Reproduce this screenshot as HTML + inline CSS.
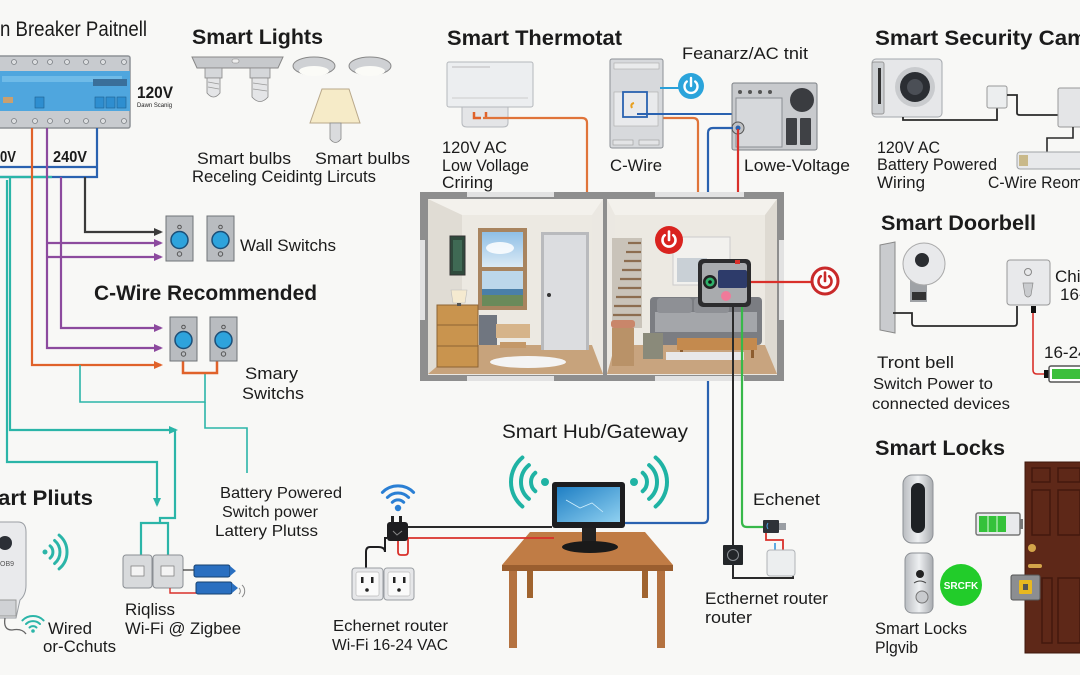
<!DOCTYPE html>
<html><head><meta charset="utf-8"><style>
html,body{margin:0;padding:0;background:#f8f8f6;}
svg{display:block;}
text{font-family:"Liberation Sans",sans-serif;fill:#1b1b1b;}
.t{font-weight:bold;font-size:21px;}
.l{font-size:17px;}
.s{font-size:16px;}
</style></head><body>
<svg width="1080" height="675" viewBox="0 0 1080 675" xmlns="http://www.w3.org/2000/svg">
<defs>
<marker id="ap" markerWidth="9" markerHeight="8" refX="7" refY="4" orient="auto" markerUnits="userSpaceOnUse"><path d="M0,0 L9,4 L0,8 z" fill="#8c4a9e"/></marker>
<marker id="ao" markerWidth="9" markerHeight="8" refX="7" refY="4" orient="auto" markerUnits="userSpaceOnUse"><path d="M0,0 L9,4 L0,8 z" fill="#e0622a"/></marker>
<marker id="ag" markerWidth="9" markerHeight="8" refX="7" refY="4" orient="auto" markerUnits="userSpaceOnUse"><path d="M0,0 L9,4 L0,8 z" fill="#3a3a3a"/></marker>
<marker id="at" markerWidth="9" markerHeight="8" refX="7" refY="4" orient="auto" markerUnits="userSpaceOnUse"><path d="M0,0 L9,4 L0,8 z" fill="#2bb5a8"/></marker>
<linearGradient id="silver" x1="0" y1="0" x2="1" y2="0"><stop offset="0" stop-color="#b9bcc0"/><stop offset="0.5" stop-color="#eef0f2"/><stop offset="1" stop-color="#a9acb0"/></linearGradient>
<linearGradient id="screen" x1="0" y1="0" x2="1" y2="1"><stop offset="0" stop-color="#1f7fc4"/><stop offset="1" stop-color="#8fd0f0"/></linearGradient>
<linearGradient id="sky" x1="0" y1="0" x2="0" y2="1"><stop offset="0" stop-color="#8fbfe6"/><stop offset="1" stop-color="#dbeaf5"/></linearGradient>
</defs>

<!-- ============ BREAKER PANEL ============ -->
<text x="0" y="36" style="font-size:21px" textLength="147" lengthAdjust="spacingAndGlyphs">n Breaker Paitnell</text>
<rect x="-4" y="56" width="134" height="72" rx="2" fill="#c8cbcf" stroke="#8d9196" stroke-width="1.5"/>
<rect x="-4" y="71" width="134" height="40" fill="#4fa6de"/>
<rect x="2" y="76" width="120" height="6" fill="#6fbbe8"/>
<rect x="93" y="79" width="34" height="7" fill="#3a6f9a"/>
<rect x="95" y="97" width="9" height="11" fill="#2e8ed0" stroke="#1f5f8f" stroke-width="0.6"/>
<rect x="106" y="97" width="9" height="11" fill="#2e8ed0" stroke="#1f5f8f" stroke-width="0.6"/>
<rect x="117" y="97" width="9" height="11" fill="#2e8ed0" stroke="#1f5f8f" stroke-width="0.6"/>
<rect x="35" y="97" width="9" height="11" fill="#2e8ed0" stroke="#1f5f8f" stroke-width="0.6"/>
<rect x="3" y="97" width="10" height="6" fill="#c9a070"/>
<g fill="#dcdee0" stroke="#7b7f84" stroke-width="0.8">
<circle cx="14" cy="62" r="2.5"/><circle cx="35" cy="62" r="2.5"/><circle cx="50" cy="62" r="2.5"/><circle cx="67" cy="62" r="2.5"/><circle cx="86" cy="62" r="2.5"/><circle cx="103" cy="62" r="2.5"/><circle cx="124" cy="62" r="2.5"/>
<circle cx="14" cy="121" r="2.5"/><circle cx="35" cy="121" r="2.5"/><circle cx="50" cy="121" r="2.5"/><circle cx="67" cy="121" r="2.5"/><circle cx="86" cy="121" r="2.5"/><circle cx="103" cy="121" r="2.5"/><circle cx="124" cy="121" r="2.5"/>
</g>
<text x="137" y="98" style="font-size:17px;font-weight:bold" textLength="36" lengthAdjust="spacingAndGlyphs">120V</text>
<text x="137" y="107" style="font-size:6px" textLength="35" lengthAdjust="spacingAndGlyphs">Dawn Scanig</text>
<text x="0" y="162" style="font-size:16px;font-weight:bold" textLength="16" lengthAdjust="spacingAndGlyphs">0V</text>
<text x="53" y="162" style="font-size:16px;font-weight:bold" textLength="34" lengthAdjust="spacingAndGlyphs">240V</text>

<!-- left wires -->
<g fill="none" stroke-width="2.2">
<path d="M97,128 V177 H-2" stroke="#2a62b0"/>
<path d="M-2,167 H97" stroke="#2a62b0"/>
<path d="M-2,177 H52" stroke="#2bb5a8"/>
<path d="M10,177 V430 H176" stroke="#2bb5a8" marker-end="url(#at)"/>
<path d="M7,180 V462 H157 V505" stroke="#2bb5a8" marker-end="url(#at)"/>
<path d="M175,430 V518 H160 V523 M141,556 V523 H168 V556" stroke="#2bb5a8"/>
<path d="M32,128 V365 H161" stroke="#e0622a" marker-end="url(#ao)"/>
<path d="M47,128 V348 H161" stroke="#8c4a9e" marker-end="url(#ap)"/>
<path d="M47,243 H161" stroke="#8c4a9e" marker-end="url(#ap)"/>
<path d="M47,257 H161" stroke="#8c4a9e" marker-end="url(#ap)"/>
<path d="M61,177 V328 H161" stroke="#8c4a9e" marker-end="url(#ap)"/>
<path d="M85,177 V232 H161" stroke="#3a3a3a" marker-end="url(#ag)"/>
<path d="M80,365 V402 H205 V372" stroke="#2bb5a8" stroke-width="1.6"/>
<path d="M205,402 V428 H247 V473" stroke="#2bb5a8" stroke-width="1.6"/>
<path d="M183,361 V373 H217 V361" stroke="#e0622a" stroke-width="2.5"/>
</g>

<!-- wall switches -->
<g>
<rect x="166" y="216" width="27" height="45" fill="#b9bcc0" stroke="#6f7378"/>
<circle cx="179.5" cy="240" r="8.5" fill="#2ea3dc" stroke="#1c4f78" stroke-width="1.5"/>
<circle cx="179.5" cy="227" r="1.8" fill="none" stroke="#555"/><circle cx="179.5" cy="254" r="2.2" fill="none" stroke="#555"/>
<rect x="207" y="216" width="27" height="45" fill="#b9bcc0" stroke="#6f7378"/>
<circle cx="220.5" cy="240" r="8.5" fill="#2ea3dc" stroke="#1c4f78" stroke-width="1.5"/>
<circle cx="220.5" cy="227" r="1.8" fill="none" stroke="#555"/><circle cx="220.5" cy="254" r="2.2" fill="none" stroke="#555"/>
<rect x="170" y="317" width="27" height="44" fill="#b9bcc0" stroke="#6f7378"/>
<circle cx="183.5" cy="340" r="8.5" fill="#2ea3dc" stroke="#1c4f78" stroke-width="1.5"/>
<circle cx="183.5" cy="327" r="1.8" fill="none" stroke="#555"/><circle cx="183.5" cy="354" r="2.2" fill="none" stroke="#555"/>
<rect x="210" y="317" width="27" height="44" fill="#b9bcc0" stroke="#6f7378"/>
<circle cx="223.5" cy="340" r="8.5" fill="#2ea3dc" stroke="#1c4f78" stroke-width="1.5"/>
<circle cx="223.5" cy="327" r="1.8" fill="none" stroke="#555"/><circle cx="223.5" cy="354" r="2.2" fill="none" stroke="#555"/>
</g>
<text x="240" y="251" class="l" textLength="96" lengthAdjust="spacingAndGlyphs">Wall Switchs</text>
<text x="94" y="300" class="t" textLength="223" lengthAdjust="spacingAndGlyphs">C-Wire Recommended</text>
<text x="245" y="379" class="l" textLength="53" lengthAdjust="spacingAndGlyphs">Smary</text>
<text x="242" y="399" class="l" textLength="62" lengthAdjust="spacingAndGlyphs">Switchs</text>

<!-- ============ SMART LIGHTS ============ -->
<text x="192" y="44" class="t" textLength="131" lengthAdjust="spacingAndGlyphs">Smart Lights</text>
<path d="M192,57 H283 L278,68 H197 Z" fill="#c7c9cc" stroke="#888" stroke-width="1"/>
<rect x="232" y="59" width="7" height="4" rx="2" fill="#eee" stroke="#888" stroke-width="0.6"/>
<rect x="205" y="68" width="17" height="10" fill="#d5d7da" stroke="#888" stroke-width="0.8"/>
<path d="M207,78 H220 V93 Q213.5,101 207,93 Z" fill="#e4e5e7" stroke="#888" stroke-width="0.8"/>
<rect x="250" y="68" width="20" height="10" fill="#d5d7da" stroke="#888" stroke-width="0.8"/>
<path d="M252,78 H268 V97 Q260,106 252,97 Z" fill="#e4e5e7" stroke="#888" stroke-width="0.8"/>
<g stroke="#999" stroke-width="0.8"><line x1="208" y1="82" x2="219" y2="84"/><line x1="208" y1="87" x2="219" y2="89"/><line x1="253" y1="83" x2="267" y2="85"/><line x1="253" y1="89" x2="267" y2="91"/></g>
<ellipse cx="314" cy="66" rx="21" ry="9" fill="#cfd1d4" stroke="#888"/>
<ellipse cx="314" cy="71" rx="15" ry="5" fill="#fbfbf7"/>
<ellipse cx="370" cy="66" rx="21" ry="9" fill="#cfd1d4" stroke="#888"/>
<ellipse cx="370" cy="71" rx="15" ry="5" fill="#fbfbf7"/>
<path d="M322,89 H349 L360,123 H310 Z" fill="#f6ebc8" stroke="#b9a88a"/>
<path d="M330,123 H341 V139 Q335.5,146 330,139 Z" fill="#dadbdd" stroke="#888" stroke-width="0.8"/>
<text x="197" y="164" class="l" textLength="94" lengthAdjust="spacingAndGlyphs">Smart bulbs</text>
<text x="315" y="164" class="l" textLength="95" lengthAdjust="spacingAndGlyphs">Smart bulbs</text>
<text x="192" y="182" class="l" textLength="184" lengthAdjust="spacingAndGlyphs">Receling Ceidintg Lircuts</text>

<!-- ============ SMART PLUGS ============ -->
<text x="-2" y="505" class="t" textLength="95" lengthAdjust="spacingAndGlyphs">art Pliuts</text>
<path d="M-4,522 H18 Q26,522 26,532 V585 Q26,595 20,600 L16,618 H-4 Z" fill="#e9eaec" stroke="#9a9ea3"/>
<circle cx="5" cy="543" r="7" fill="#2b2f36"/>
<text x="0" y="566" style="font-size:7px;fill:#555">OB9</text>
<rect x="-2" y="600" width="18" height="16" fill="#d0d2d5" stroke="#999"/>
<path d="M5,618 Q3,630 12,630 Q22,628 26,634" fill="none" stroke="#666" stroke-width="1.3"/>
<g fill="none" stroke="#2bb5a8" stroke-width="3" stroke-linecap="round">
<circle cx="45" cy="552" r="2.5" fill="#2bb5a8" stroke="none"/>
<path d="M50.1,545.9 A8,8 0 0 1 50.1,558.1"/>
<path d="M54.6,540.5 A15,15 0 0 1 54.6,563.5"/>
<path d="M59.1,535.1 A22,22 0 0 1 59.1,568.9"/>
</g>
<g fill="none" stroke="#2bb5a8" stroke-width="2" stroke-linecap="round">
<circle cx="33" cy="631" r="1.8" fill="#2bb5a8" stroke="none"/>
<path d="M29.5,627.5 A5,5 0 0 1 36.5,627.5"/>
<path d="M26,624 A10,10 0 0 1 40,624"/>
<path d="M22.4,620.4 A15,15 0 0 1 43.6,620.4"/>
</g>
<text x="48" y="634" class="l" textLength="44" lengthAdjust="spacingAndGlyphs">Wired</text>
<text x="43" y="652" class="l" textLength="73" lengthAdjust="spacingAndGlyphs">or-Cchuts</text>

<!-- rigless switches -->
<rect x="123" y="555" width="29" height="33" rx="3" fill="#d8dadc" stroke="#8a8e93"/>
<rect x="131" y="566" width="13" height="10" fill="#f4f4f4" stroke="#777" stroke-width="0.7"/>
<rect x="153" y="555" width="30" height="33" rx="3" fill="#d8dadc" stroke="#8a8e93"/>
<rect x="161" y="566" width="13" height="10" fill="#f4f4f4" stroke="#777" stroke-width="0.7"/>
<path d="M183,570 H194" stroke="#333" stroke-width="1.2"/>
<path d="M170,588 V593 H196" stroke="#d9302a" stroke-width="1.4" fill="none"/>
<rect x="194" y="565" width="36" height="12" rx="2" fill="#2a6fc0" stroke="#15406f"/>
<path d="M230,566 L236,571 L230,576 Z" fill="#2a6fc0"/>
<rect x="196" y="582" width="36" height="12" rx="2" fill="#2a6fc0" stroke="#15406f"/>
<path d="M232,583 L238,588 L232,593 Z" fill="#2a6fc0"/>
<path d="M239,588 A4,4 0 0 1 239,594 M242,585 A8,8 0 0 1 242,597" fill="none" stroke="#888" stroke-width="1"/>
<text x="125" y="615" class="l" textLength="50" lengthAdjust="spacingAndGlyphs">Riqliss</text>
<text x="125" y="634" class="l" textLength="116" lengthAdjust="spacingAndGlyphs">Wi-Fi @ Zigbee</text>
<text x="220" y="498" class="s" textLength="122" lengthAdjust="spacingAndGlyphs">Battery Powered</text>
<text x="222" y="517" class="s" textLength="96" lengthAdjust="spacingAndGlyphs">Switch power</text>
<text x="215" y="536" class="s" textLength="103" lengthAdjust="spacingAndGlyphs">Lattery Plutss</text>

<!-- ============ THERMOSTAT ============ -->
<text x="447" y="45" class="t" textLength="175" lengthAdjust="spacingAndGlyphs">Smart Thermotat</text>
<rect x="447" y="62" width="86" height="45" rx="2" fill="#eceef0" stroke="#b5b8bc"/>
<line x1="452" y1="67" x2="490" y2="67" stroke="#bbb"/>
<line x1="452" y1="98" x2="528" y2="98" stroke="#ccc"/>
<path d="M462,107 H508 V123 Q508,127 503,127 H467 Q462,127 462,123 Z" fill="#e4e5e7" stroke="#b5b8bc"/>
<path d="M474,112 V118 H481 M486,112 V119" stroke="#e0622a" stroke-width="2.5" fill="none"/>
<path d="M483,118 H582 Q587,118 587,123 V210 Q587,215 592,215 H693 Q698,215 698,210 V123 Q698,118 693,118 H637" fill="none" stroke="#e0743a" stroke-width="2.2"/>
<text x="442" y="153" class="l" textLength="65" lengthAdjust="spacingAndGlyphs">120V AC</text>
<text x="442" y="171" class="l" textLength="87" lengthAdjust="spacingAndGlyphs">Low Vollage</text>
<text x="442" y="188" class="l" textLength="51" lengthAdjust="spacingAndGlyphs">Criring</text>

<!-- C-wire panel -->
<rect x="610" y="59" width="53" height="89" rx="2" fill="#d7d9dc" stroke="#8d9196"/>
<rect x="614" y="63" width="45" height="6" fill="#eaebec" stroke="#aaa" stroke-width="0.6"/>
<rect x="614" y="92" width="44" height="34" fill="#e9eaec" stroke="#aaa" stroke-width="0.6"/>
<rect x="613" y="140" width="20" height="5" fill="#e3e4e6" stroke="#999" stroke-width="0.6"/>
<rect x="639" y="140" width="20" height="5" fill="#e3e4e6" stroke="#999" stroke-width="0.6"/>
<rect x="623" y="92" width="24" height="25" fill="none" stroke="#2a62b0" stroke-width="1.8"/>
<path d="M632,108 Q630,104 634,103" stroke="#e8a020" stroke-width="2" fill="none"/>
<line x1="660" y1="88" x2="679" y2="88" stroke="#2a9fd8" stroke-width="2"/>
<line x1="637" y1="114" x2="732" y2="114" stroke="#2a62b0" stroke-width="2"/>
<circle cx="691" cy="86" r="13" fill="#2ba4db"/>
<path d="M686.8,81.5 A6.5,6.5 0 1 0 695.2,81.5" fill="none" stroke="#fff" stroke-width="2.4" stroke-linecap="round"/>
<line x1="691" y1="78" x2="691" y2="86" stroke="#fff" stroke-width="2.4" stroke-linecap="round"/>
<text x="682" y="59" class="l" textLength="126" lengthAdjust="spacingAndGlyphs">Feanarz/AC tnit</text>

<!-- HVAC unit -->
<rect x="732" y="83" width="85" height="67" rx="2" fill="#c8cacd" stroke="#7d8186"/>
<rect x="736" y="98" width="46" height="49" fill="#d6d8db" stroke="#8a8e93"/>
<g fill="#555"><circle cx="740" cy="92" r="2"/><circle cx="750" cy="92" r="2"/><circle cx="760" cy="92" r="2"/><circle cx="770" cy="92" r="2"/></g>
<circle cx="802" cy="100" r="12" fill="#3a3c40"/>
<g fill="#3f4145"><rect x="786" y="118" width="11" height="27" rx="1"/><rect x="800" y="118" width="11" height="27" rx="1"/></g>
<circle cx="738" cy="128" r="6" fill="#bfc1c4" stroke="#555"/>
<circle cx="738" cy="128" r="2.5" fill="#2a62b0"/>
<path d="M733,128 H713 Q708,128 708,133 V518 Q708,523 703,523 H625" fill="none" stroke="#2a62b0" stroke-width="2.2"/>
<line x1="738" y1="129" x2="738" y2="259" stroke="#d9302a" stroke-width="2.2"/>
<text x="610" y="171" class="l" textLength="52" lengthAdjust="spacingAndGlyphs">C-Wire</text>
<text x="744" y="171" class="l" textLength="106" lengthAdjust="spacingAndGlyphs">Lowe-Voltage</text>

<!-- ============ HOUSE ============ -->
<rect x="420" y="192" width="364" height="189" fill="#8e8e8e"/>
<rect x="467" y="192" width="87" height="5" fill="#e2e2e2"/>
<rect x="655" y="192" width="89" height="5" fill="#e2e2e2"/>
<rect x="467" y="376" width="87" height="5" fill="#e2e2e2"/>
<rect x="655" y="376" width="89" height="5" fill="#e2e2e2"/>
<rect x="420" y="240" width="5" height="80" fill="#e2e2e2"/>
<rect x="779" y="240" width="5" height="80" fill="#e2e2e2"/>
<rect x="428" y="199" width="175" height="176" fill="#ebe8e2"/>
<polygon points="428,199 603,199 592,215 462,215" fill="#f3f1ec"/>
<polygon points="428,199 462,215 462,345 428,374" fill="#e0dcd4"/>
<polygon points="428,374 603,374 592,345 462,345" fill="#c7a37c"/>
<rect x="462" y="215" width="130" height="130" fill="#ece9e2"/>
<rect x="450" y="236" width="15" height="39" fill="#2f4a3c" stroke="#333"/>
<rect x="453" y="240" width="9" height="31" fill="#3f6a54"/>
<rect x="478" y="228" width="49" height="82" fill="#a8845f"/>
<rect x="482" y="232" width="41" height="35" fill="url(#sky)"/>
<ellipse cx="500" cy="248" rx="14" ry="6" fill="#fff" opacity="0.85"/>
<rect x="482" y="271" width="41" height="35" fill="#bcd7ea"/>
<rect x="482" y="289" width="41" height="6" fill="#4a7fa8"/>
<rect x="482" y="295" width="41" height="11" fill="#6a8a5a"/>
<rect x="541" y="232" width="48" height="118" fill="#b9babd"/>
<rect x="544" y="235" width="42" height="115" fill="#dcdde0"/>
<circle cx="549" cy="295" r="2" fill="#333"/>
<rect x="437" y="305" width="41" height="62" fill="#c9944e" stroke="#8d6334"/>
<line x1="437" y1="325" x2="478" y2="325" stroke="#8d6334"/><line x1="437" y1="346" x2="478" y2="346" stroke="#8d6334"/>
<path d="M451,290 H467 L465,303 H453 Z" fill="#f5ead0" stroke="#bbb" stroke-width="0.6"/>
<rect x="457" y="303" width="4" height="3" fill="#555"/>
<rect x="479" y="315" width="18" height="30" fill="#707680"/>
<rect x="496" y="324" width="34" height="14" fill="#d6b48a"/>
<rect x="500" y="342" width="26" height="6" fill="#c49868"/>
<ellipse cx="528" cy="362" rx="38" ry="6" fill="#f4f4f4"/>
<rect x="607" y="199" width="170" height="176" fill="#ebe8e2"/>
<polygon points="607,199 777,199 765,215 615,215" fill="#f3f1ec"/>
<polygon points="777,199 765,215 765,345 777,374" fill="#dedad2"/>
<polygon points="607,374 777,374 765,345 615,345" fill="#c8a47f"/>
<rect x="615" y="215" width="150" height="130" fill="#ece9e2"/>
<rect x="612" y="238" width="30" height="90" fill="#c9c3b9"/>
<g stroke="#8c6d50" stroke-width="2.2"><line x1="628" y1="243" x2="641" y2="243"/><line x1="626" y1="252" x2="641" y2="252"/><line x1="624" y1="261" x2="641" y2="261"/><line x1="622" y1="270" x2="641" y2="270"/><line x1="620" y1="279" x2="641" y2="279"/><line x1="618" y1="288" x2="641" y2="288"/><line x1="616" y1="297" x2="641" y2="297"/><line x1="614" y1="306" x2="641" y2="306"/><line x1="613" y1="315" x2="641" y2="315"/></g>
<rect x="673" y="237" width="57" height="48" fill="#f2f1ee" stroke="#ccc"/>
<rect x="677" y="258" width="30" height="24" fill="#c9d0d6"/>
<rect x="650" y="297" width="112" height="48" rx="4" fill="#7b7d82"/>
<rect x="655" y="312" width="102" height="20" fill="#a4a6aa"/>
<rect x="657" y="298" width="35" height="15" rx="3" fill="#8e9095"/>
<rect x="694" y="298" width="35" height="15" rx="3" fill="#8e9095"/>
<rect x="677" y="338" width="80" height="12" fill="#c48a4e"/>
<rect x="680" y="350" width="3" height="8" fill="#8d5d30"/><rect x="751" y="350" width="3" height="8" fill="#8d5d30"/>
<rect x="612" y="328" width="22" height="38" fill="#b99268"/>
<rect x="611" y="320" width="24" height="8" rx="3" fill="#c9866a"/>
<rect x="643" y="333" width="20" height="26" fill="#8a8a7a"/>
<rect x="666" y="352" width="78" height="8" fill="#e8e8ea"/>
<rect x="698" y="259" width="53" height="48" rx="5" fill="#2c2c2e"/>
<rect x="702" y="263" width="45" height="40" rx="3" fill="#a9abae"/>
<circle cx="710" cy="282" r="7" fill="#222"/>
<circle cx="710" cy="282" r="4.5" fill="#2fb06a"/>
<circle cx="710" cy="282" r="1.8" fill="#111"/>
<rect x="718" y="270" width="29" height="18" rx="2" fill="#2d3b6a"/>
<circle cx="726" cy="296" r="5" fill="#f07a9a"/>
<rect x="735" y="260" width="5" height="4" fill="#d9302a"/>
<circle cx="669" cy="240" r="14" fill="#d9231f"/>
<path d="M664.7,235.2 A6.5,6.5 0 1 0 673.3,235.2" fill="none" stroke="#fff" stroke-width="2.6" stroke-linecap="round"/>
<line x1="669" y1="231.5" x2="669" y2="240" stroke="#fff" stroke-width="2.6" stroke-linecap="round"/>
<line x1="751" y1="282" x2="811" y2="282" stroke="#d9302a" stroke-width="2.2"/>
<circle cx="825" cy="281" r="13" fill="#fff" stroke="#c92a2a" stroke-width="3"/>
<path d="M820.8,276.2 A6.5,6.5 0 1 0 829.2,276.2" fill="none" stroke="#c92a2a" stroke-width="2.6" stroke-linecap="round"/>
<line x1="825" y1="272.5" x2="825" y2="281" stroke="#c92a2a" stroke-width="2.6" stroke-linecap="round"/>
<path d="M733,307 V578 H793 V576" fill="none" stroke="#2a2a2a" stroke-width="2"/>
<path d="M742,307 V522 Q742,527 747,527 H764" fill="none" stroke="#38b84a" stroke-width="2.2"/>

<!-- ============ HUB ============ -->
<text x="502" y="438" style="font-size:19px" textLength="186" lengthAdjust="spacingAndGlyphs">Smart Hub/Gateway</text>
<g fill="none" stroke="#1fb3a4" stroke-width="4" stroke-linecap="round">
<path d="M535.3,472.8 A12,12 0 0 0 535.3,491.2"/>
<path d="M528.9,465.1 A22,22 0 0 0 528.9,498.9"/>
<path d="M522.4,457.5 A32,32 0 0 0 522.4,506.5"/>
<path d="M642.7,472.8 A12,12 0 0 1 642.7,491.2"/>
<path d="M649.1,465.1 A22,22 0 0 1 649.1,498.9"/>
<path d="M655.6,457.5 A32,32 0 0 1 655.6,506.5"/>
</g>
<circle cx="545" cy="482" r="4" fill="#1fb3a4"/>
<circle cx="634" cy="482" r="4" fill="#1fb3a4"/>
<polygon points="530,532 645,532 673,565 502,565" fill="#c07c45"/>
<rect x="502" y="565" width="171" height="6" fill="#9a5e2f"/>
<rect x="509" y="571" width="8" height="77" fill="#b47240"/>
<rect x="657" y="571" width="8" height="77" fill="#b47240"/>
<rect x="527" y="571" width="6" height="27" fill="#a0642f"/>
<rect x="642" y="571" width="6" height="27" fill="#a0642f"/>
<rect x="552" y="482" width="73" height="46" rx="3" fill="#1d1d1f"/>
<rect x="557" y="487" width="63" height="35" fill="url(#screen)"/>
<path d="M566,500 L580,508 L592,503 L603,512" fill="none" stroke="#cfeefc" stroke-width="0.8"/>
<rect x="582" y="528" width="14" height="15" fill="#222"/>
<ellipse cx="590" cy="547" rx="28" ry="6" fill="#1a1a1a"/>
<line x1="408" y1="527" x2="552" y2="527" stroke="#2a2a2a" stroke-width="2"/>
<path d="M398,540 V552 Q398,555 401,555 H405 Q408,555 408,552 V538 H554" fill="none" stroke="#d9302a" stroke-width="1.8"/>
<rect x="387" y="522" width="21" height="19" rx="3" fill="#1e1e20"/>
<rect x="391" y="516" width="3" height="6" fill="#222"/><rect x="399" y="516" width="3" height="6" fill="#222"/>
<path d="M393,531 L397,535 L402,531" fill="none" stroke="#888" stroke-width="1"/>
<path d="M387,538 H385 V552 Q385,547 378,547 H370 Q366,547 366,552 V568" fill="none" stroke="#1e1e20" stroke-width="2"/>
<circle cx="398" cy="508" r="3.2" fill="#2a7fd4"/>
<g fill="none" stroke="#2a7fd4" stroke-width="3" stroke-linecap="round">
<path d="M392.3,502.3 A8,8 0 0 1 403.7,502.3"/>
<path d="M387.4,497.4 A15,15 0 0 1 408.6,497.4"/>
<path d="M382.4,492.4 A22,22 0 0 1 413.6,492.4"/>
</g>
<rect x="352" y="568" width="31" height="32" rx="3" fill="#e6e7e9" stroke="#9a9ea3"/>
<rect x="356" y="572" width="23" height="24" rx="2" fill="#fafafa" stroke="#bbb" stroke-width="0.7"/>
<rect x="361" y="577" width="2.5" height="6" fill="#222"/><rect x="371" y="577" width="2.5" height="6" fill="#222"/><circle cx="367" cy="590" r="1.8" fill="#222"/>
<rect x="384" y="568" width="30" height="32" rx="3" fill="#e6e7e9" stroke="#9a9ea3"/>
<rect x="388" y="572" width="22" height="24" rx="2" fill="#fafafa" stroke="#bbb" stroke-width="0.7"/>
<rect x="393" y="577" width="2.5" height="6" fill="#222"/><rect x="403" y="577" width="2.5" height="6" fill="#222"/><circle cx="399" cy="590" r="1.8" fill="#222"/>
<text x="333" y="631" class="s" textLength="115" lengthAdjust="spacingAndGlyphs">Echernet router</text>
<text x="332" y="650" class="s" textLength="116" lengthAdjust="spacingAndGlyphs">Wi-Fi 16-24 VAC</text>

<text x="753" y="505" class="l" textLength="67" lengthAdjust="spacingAndGlyphs">Echenet</text>
<rect x="763" y="520" width="16" height="13" rx="1" fill="#2e3238"/>
<rect x="779" y="523" width="7" height="7" fill="#9a9ea3"/>
<path d="M768,523 Q766,526 768,529" stroke="#4aa0e0" fill="none"/>
<path d="M766,533 V540 H783 V550" fill="none" stroke="#d9302a" stroke-width="1.8"/>
<line x1="775" y1="543" x2="775" y2="551" stroke="#4aa0e0" stroke-width="1.8"/>
<rect x="767" y="550" width="28" height="26" rx="3" fill="#eceeef" stroke="#b0b3b7"/>
<rect x="723" y="545" width="20" height="20" rx="1" fill="#232629"/>
<circle cx="733" cy="555" r="5.5" fill="none" stroke="#8a8e93" stroke-width="1"/>
<text x="705" y="604" class="l" textLength="123" lengthAdjust="spacingAndGlyphs">Ecthernet router</text>
<text x="705" y="623" class="l" textLength="47" lengthAdjust="spacingAndGlyphs">router</text>

<!-- ============ SECURITY CAMERA ============ -->
<text x="875" y="45" class="t" textLength="212" lengthAdjust="spacingAndGlyphs">Smart Security Cam</text>
<rect x="872" y="59" width="70" height="58" rx="4" fill="#e6e7e9" stroke="#a4a8ad"/>
<rect x="872" y="62" width="12" height="52" rx="2" fill="#cdd0d3" stroke="#999"/>
<rect x="878" y="68" width="3" height="36" fill="#333"/>
<circle cx="915" cy="87" r="20" fill="#c9cbce"/>
<circle cx="915" cy="87" r="15" fill="#2b2e33"/>
<circle cx="915" cy="87" r="8" fill="#4b4f56"/>
<path d="M903,117 V120 H997 V108" fill="none" stroke="#2a2a2a" stroke-width="1.8"/>
<rect x="987" y="86" width="20" height="22" rx="2" fill="#eceeef" stroke="#999"/>
<path d="M1007,95 H1017 V113 Q1017,115 1020,115 H1058" fill="none" stroke="#2a2a2a" stroke-width="1.8"/>
<rect x="1058" y="88" width="26" height="39" rx="2" fill="#e4e5e7" stroke="#999"/>
<path d="M1073,127 V138 H1047 V152" fill="none" stroke="#2a2a2a" stroke-width="1.6"/>
<rect x="1017" y="152" width="68" height="17" rx="3" fill="#e8e9eb" stroke="#a0a3a7"/>
<rect x="1019" y="155" width="9" height="11" fill="#c9b98a"/>
<text x="877" y="153" class="l" textLength="63" lengthAdjust="spacingAndGlyphs">120V AC</text>
<text x="877" y="170" class="l" textLength="120" lengthAdjust="spacingAndGlyphs">Battery Powered</text>
<text x="877" y="188" class="l" textLength="48" lengthAdjust="spacingAndGlyphs">Wiring</text>
<text x="988" y="188" class="l" textLength="95" lengthAdjust="spacingAndGlyphs">C-Wire Reom</text>

<!-- ============ DOORBELL ============ -->
<text x="881" y="230" class="t" textLength="155" lengthAdjust="spacingAndGlyphs">Smart Doorbell</text>
<polygon points="880,245 895,242 895,333 880,330" fill="#c9cbce" stroke="#888"/>
<rect x="910" y="280" width="17" height="22" fill="#9fa2a6"/>
<circle cx="924" cy="264" r="21" fill="#e8e9eb" stroke="#aaa"/>
<circle cx="922" cy="260" r="7" fill="#2a2d31"/>
<rect x="912" y="292" width="14" height="8" fill="#333"/>
<path d="M893,313 H912 V323 Q912,326 915,326 H1014 Q1017,326 1017,323 V306" fill="none" stroke="#2a2a2a" stroke-width="1.8"/>
<rect x="1007" y="260" width="43" height="45" rx="3" fill="#e8e9eb" stroke="#999"/>
<circle cx="1028" cy="272" r="3.5" fill="none" stroke="#888"/>
<path d="M1023,283 H1033 L1031,295 Q1028,299 1025,295 Z" fill="#c9cbce" stroke="#888" stroke-width="0.7"/>
<rect x="1031" y="306" width="5" height="7" fill="#111"/>
<path d="M1033,313 V370 Q1033,374 1037,374 H1047" fill="none" stroke="#d9302a" stroke-width="1.6"/>
<rect x="1044" y="370" width="5" height="8" fill="#111"/>
<rect x="1049" y="366" width="36" height="16" rx="2" fill="#fff" stroke="#555" stroke-width="1.5"/>
<rect x="1052" y="369" width="30" height="10" fill="#3cbf3c"/>
<text x="1055" y="282" class="l">Chi</text>
<text x="1060" y="300" class="l">16-</text>
<text x="1044" y="358" class="l">16-24</text>
<text x="877" y="368" class="l" textLength="77" lengthAdjust="spacingAndGlyphs">Tront bell</text>
<text x="873" y="389" class="s" textLength="120" lengthAdjust="spacingAndGlyphs">Switch Power to</text>
<text x="872" y="409" class="s" textLength="138" lengthAdjust="spacingAndGlyphs">connected devices</text>

<!-- ============ LOCKS ============ -->
<text x="875" y="455" class="t" textLength="130" lengthAdjust="spacingAndGlyphs">Smart Locks</text>
<rect x="903" y="475" width="30" height="68" rx="9" fill="url(#silver)" stroke="#8d9196"/>
<rect x="911" y="483" width="14" height="50" rx="7" fill="#1e2125"/>
<rect x="905" y="553" width="28" height="60" rx="7" fill="url(#silver)" stroke="#8d9196"/>
<circle cx="920" cy="574" r="4" fill="#222"/>
<path d="M914,583 Q920,579 926,583" fill="none" stroke="#444"/>
<circle cx="922" cy="597" r="6" fill="#c9cbce" stroke="#777"/>
<circle cx="961" cy="585" r="21" fill="#22cc2a"/>
<text x="961" y="589" text-anchor="middle" style="font-size:10px;font-weight:bold;fill:#fff">SRCFK</text>
<rect x="976" y="513" width="44" height="22" rx="2" fill="#e9eaec" stroke="#777" stroke-width="1.5"/>
<rect x="1020" y="519" width="3" height="10" fill="#777"/>
<rect x="979" y="516" width="27" height="16" fill="#35c23a"/>
<line x1="988" y1="516" x2="988" y2="532" stroke="#bff0bf" stroke-width="1.2"/>
<line x1="997" y1="516" x2="997" y2="532" stroke="#bff0bf" stroke-width="1.2"/>
<rect x="1025" y="462" width="60" height="191" fill="#5e2818" stroke="#3f170c"/>
<g fill="none" stroke="#43190d" stroke-width="1.5">
<rect x="1032" y="468" width="18" height="14"/><rect x="1058" y="468" width="22" height="14"/>
<rect x="1032" y="490" width="18" height="45"/><rect x="1058" y="490" width="22" height="45"/>
<rect x="1042" y="578" width="10" height="65"/><rect x="1058" y="578" width="22" height="65"/>
</g>
<circle cx="1032" cy="548" r="4" fill="#d4a54a"/>
<rect x="1028" y="564" width="14" height="4" rx="2" fill="#d4a54a"/>
<rect x="1011" y="575" width="29" height="25" rx="2" fill="#8c8e91" stroke="#555"/>
<rect x="1019" y="580" width="13" height="14" rx="1" fill="#e8b820"/>
<rect x="1023" y="584" width="5" height="6" fill="#555"/>
<text x="875" y="634" class="l" textLength="92" lengthAdjust="spacingAndGlyphs">Smart Locks</text>
<text x="875" y="653" class="l" textLength="43" lengthAdjust="spacingAndGlyphs">Plgvib</text>
</svg>
</body></html>
